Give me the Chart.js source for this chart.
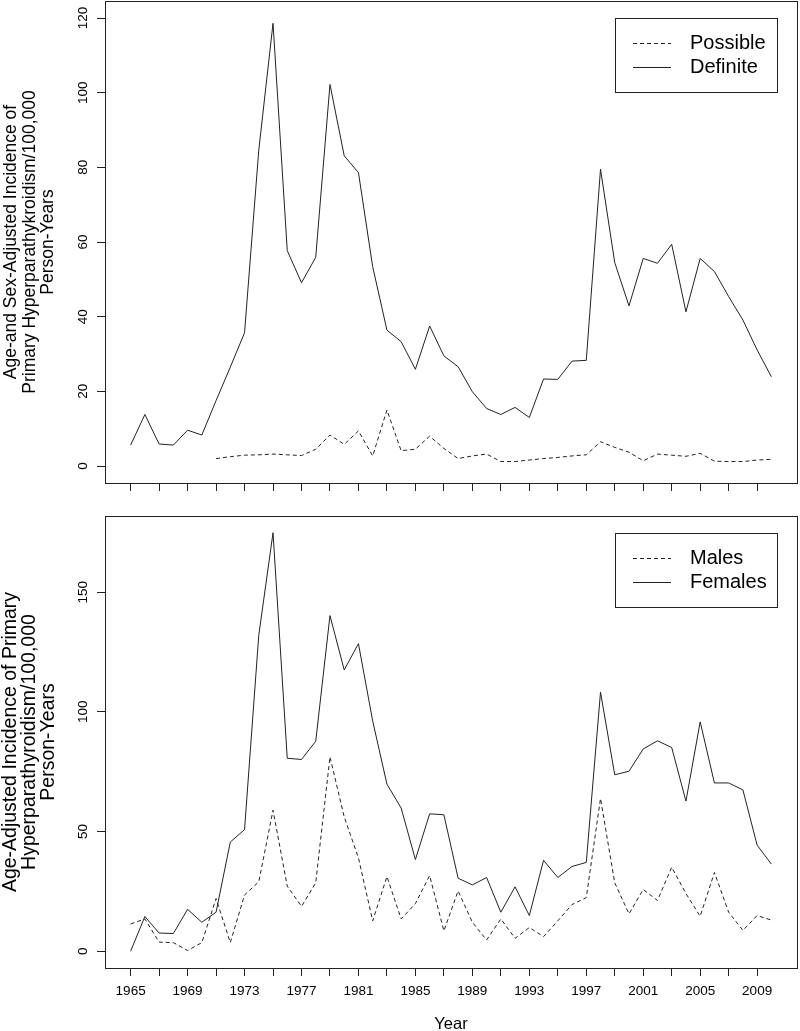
<!DOCTYPE html>
<html>
<head>
<meta charset="utf-8">
<script src="https://cdn.jsdelivr.net/npm/chart.js@4"></script>
<style>
  body { margin: 0; background: #fff; }
  canvas { position: absolute; left: 0; }
</style>
</head>
<body>
<canvas id="top" width="800" height="500" style="top:0"></canvas>
<canvas id="bottom" width="800" height="531" style="top:500px"></canvas>
<script>
// years on the x axis
const years = [1965, 1966, 1967, 1968, 1969, 1970, 1971, 1972, 1973, 1974,
  1975, 1976, 1977, 1978, 1979, 1980, 1981, 1982, 1983, 1984,
  1985, 1986, 1987, 1988, 1989, 1990, 1991, 1992, 1993, 1994,
  1995, 1996, 1997, 1998, 1999, 2000, 2001, 2002, 2003, 2004,
  2005, 2006, 2007, 2008, 2009, 2010];

// top panel
const possible = [null, null, null, null, null, null, 2.0, 2.5, 2.9, 3.0,
  3.2, 3.0, 2.8, 4.5, 8.3, 5.8, 9.4, 2.7, 15.0, 4.1,
  4.5, 8.0, 4.7, 2.0, 2.7, 3.2, 1.2, 1.2, 1.6, 2.0,
  2.3, 2.7, 3.0, 6.5, 5.0, 3.7, 1.4, 3.2, 2.9, 2.6,
  3.4, 1.3, 1.2, 1.2, 1.6, 1.8];
const definite = [5.6, 13.8, 5.9, 5.6, 9.6, 8.3, 17.5, 26.5, 35.7, 84.6,
  118.6, 57.7, 49.1, 55.9, 102.2, 83.1, 78.6, 53.4, 36.4, 33.3,
  25.9, 37.5, 29.5, 26.6, 19.9, 15.4, 13.8, 15.7, 13.0, 23.3,
  23.2, 28.1, 28.3, 79.5, 54.5, 42.9, 55.6, 54.3, 59.4, 41.3,
  55.6, 52.1, 45.4, 39.1, 31.1, 23.9];

// bottom panel
const males = [11.4, 13.5, 3.8, 3.6, 0.3, 3.6, 22.0, 3.6, 23.5, 29.0,
  58.9, 27.2, 18.7, 28.6, 81.2, 56.1, 39.0, 12.7, 31.2, 13.5,
  19.9, 31.6, 8.5, 25.2, 12.1, 4.7, 13.5, 5.4, 9.9, 6.1,
  12.7, 19.5, 22.4, 63.8, 28.6, 15.6, 25.8, 21.2, 35.1, 24.1,
  14.6, 32.9, 16.3, 8.7, 14.9, 13.0];
const females = [0.0, 14.5, 7.6, 7.4, 17.5, 12.1, 16.3, 45.6, 50.8, 132.0,
  174.8, 80.6, 80.1, 87.7, 140.2, 117.5, 128.5, 96.2, 69.8, 59.8,
  38.3, 57.4, 57.0, 30.5, 27.7, 30.8, 16.3, 26.9, 14.9, 38.0,
  30.8, 35.4, 37.1, 108.2, 73.7, 75.2, 84.5, 87.9, 85.1, 62.7,
  95.8, 70.3, 70.3, 67.4, 44.3, 36.4];

// tick marks / labels
const xTickYears = [1965, 1967, 1969, 1971, 1973, 1975, 1977, 1979, 1981, 1983,
  1985, 1987, 1989, 1991, 1993, 1995, 1997, 1999, 2001, 2003, 2005, 2007, 2009];
const xLabelYears = [1965, 1969, 1973, 1977, 1981, 1985, 1989, 1993, 1997, 2001, 2005, 2009];
const topYTicks = [0, 20, 40, 60, 80, 100, 120];
const bottomYTicks = [0, 50, 100, 150];

Chart.defaults.font.family = '"Liberation Sans", Arial, sans-serif';
Chart.defaults.color = '#000';

const INK = '#222';

function points(vals) {
  return years.map((yr, i) => ({ x: yr, y: vals[i] }));
}

// box around plot area
const frame = {
  id: 'frame',
  afterDraw(chart) {
    const a = chart.chartArea, ctx = chart.ctx;
    ctx.save();
    ctx.strokeStyle = INK;
    ctx.lineWidth = 1;
    ctx.strokeRect(Math.round(a.left) + 0.5, Math.round(a.top) + 0.5,
      Math.round(a.right - a.left), Math.round(a.bottom - a.top));
    ctx.restore();
  }
};

// legend box in the top right corner (like R legend())
const boxLegend = {
  id: 'boxLegend',
  afterDraw(chart) {
    const a = chart.chartArea, ctx = chart.ctx;
    const w = 162, h = 74;
    const x0 = Math.round(a.right - 20 - w), y0 = Math.round(a.top + 17);
    ctx.save();
    ctx.strokeStyle = INK;
    ctx.lineWidth = 1;
    ctx.strokeRect(x0 + 0.5, y0 + 0.5, w, h);
    chart.data.datasets.forEach((ds, i) => {
      const y = Math.round(y0 + 25 + i * 24) + 0.5;
      ctx.setLineDash(ds.borderDash || []);
      ctx.beginPath();
      ctx.moveTo(x0 + 18, y);
      ctx.lineTo(x0 + 56, y);
      ctx.stroke();
      ctx.setLineDash([]);
      ctx.fillStyle = '#000';
      ctx.font = '20px "Liberation Sans", Arial, sans-serif';
      ctx.textBaseline = 'middle';
      ctx.textAlign = 'left';
      ctx.fillText(ds.label, x0 + 75, y);
    });
    ctx.restore();
  }
};

function makeChart(id, sets, yMin, yMax, yTicks, yTitle, titleSize, showX, axisH) {
  return new Chart(document.getElementById(id), {
    type: 'line',
    data: {
      datasets: sets.map(s => ({
        label: s.label,
        data: points(s.data),
        borderColor: INK,
        borderWidth: 1,
        borderDash: s.dash,
        pointRadius: 0,
        tension: 0,
        fill: false
      }))
    },
    options: {
      responsive: false,
      animation: false,
      events: [],
      layout: { padding: { top: showX ? 16 : 1, right: 3, left: 0, bottom: 0 } },
      plugins: { legend: { display: false }, tooltip: { enabled: false } },
      scales: {
        x: {
          type: 'linear',
          min: 1963.2,
          max: 2011.8,
          afterBuildTicks: s => { s.ticks = xTickYears.map(v => ({ value: v })); },
          afterFit: s => {
            s.height = axisH;
            s.paddingLeft = s.paddingRight = s.paddingTop = s.paddingBottom = 0;
          },
          grid: { drawOnChartArea: false, drawTicks: true, tickLength: 8, color: INK },
          border: { display: true, color: INK, width: 1 },
          ticks: {
            autoSkip: false,
            maxRotation: 0,
            padding: 7,
            font: { size: 13.5 },
            callback: v => (showX && xLabelYears.includes(v)) ? String(v) : ''
          },
          title: {
            display: showX,
            text: 'Year',
            font: { size: 16.5, lineHeight: 0.8 },
            padding: { top: 0, bottom: 0 }
          }
        },
        y: {
          type: 'linear',
          min: yMin,
          max: yMax,
          afterBuildTicks: s => { s.ticks = yTicks.map(v => ({ value: v })); },
          afterFit: s => {
            s.width = 105;
            s.paddingLeft = s.paddingRight = s.paddingTop = s.paddingBottom = 0;
          },
          grid: { drawOnChartArea: false, drawTicks: true, tickLength: 8, color: INK },
          border: { display: true, color: INK, width: 1 },
          ticks: {
            autoSkip: false,
            minRotation: 90,
            maxRotation: 90,
            crossAlign: 'center',
            padding: 2,
            font: { size: 13.5 }
          },
          title: {
            display: true,
            text: yTitle,
            font: { size: titleSize, lineHeight: 18.8 / titleSize },
            padding: { top: 1.5, bottom: 0 }
          }
        }
      }
    },
    plugins: [frame, boxLegend]
  });
}

makeChart('top',
  [{ label: 'Possible', data: possible, dash: [4, 3] },
   { label: 'Definite', data: definite, dash: [] }],
  -4.55, 124.56, topYTicks,
  ['Age-and Sex-Adjusted Incidence of', 'Primary Hyperparathykroidism/100,000', 'Person-Years'],
  17.5, false, 17);

makeChart('bottom',
  [{ label: 'Males', data: males, dash: [4, 3] },
   { label: 'Females', data: females, dash: [] }],
  -7.0, 181.8, bottomYTicks,
  ['Age-Adjusted Incidence of Primary', 'Hyperparathyroidism/100,000', 'Person-Years'],
  19.5, true, 63);
</script>
</body>
</html>
